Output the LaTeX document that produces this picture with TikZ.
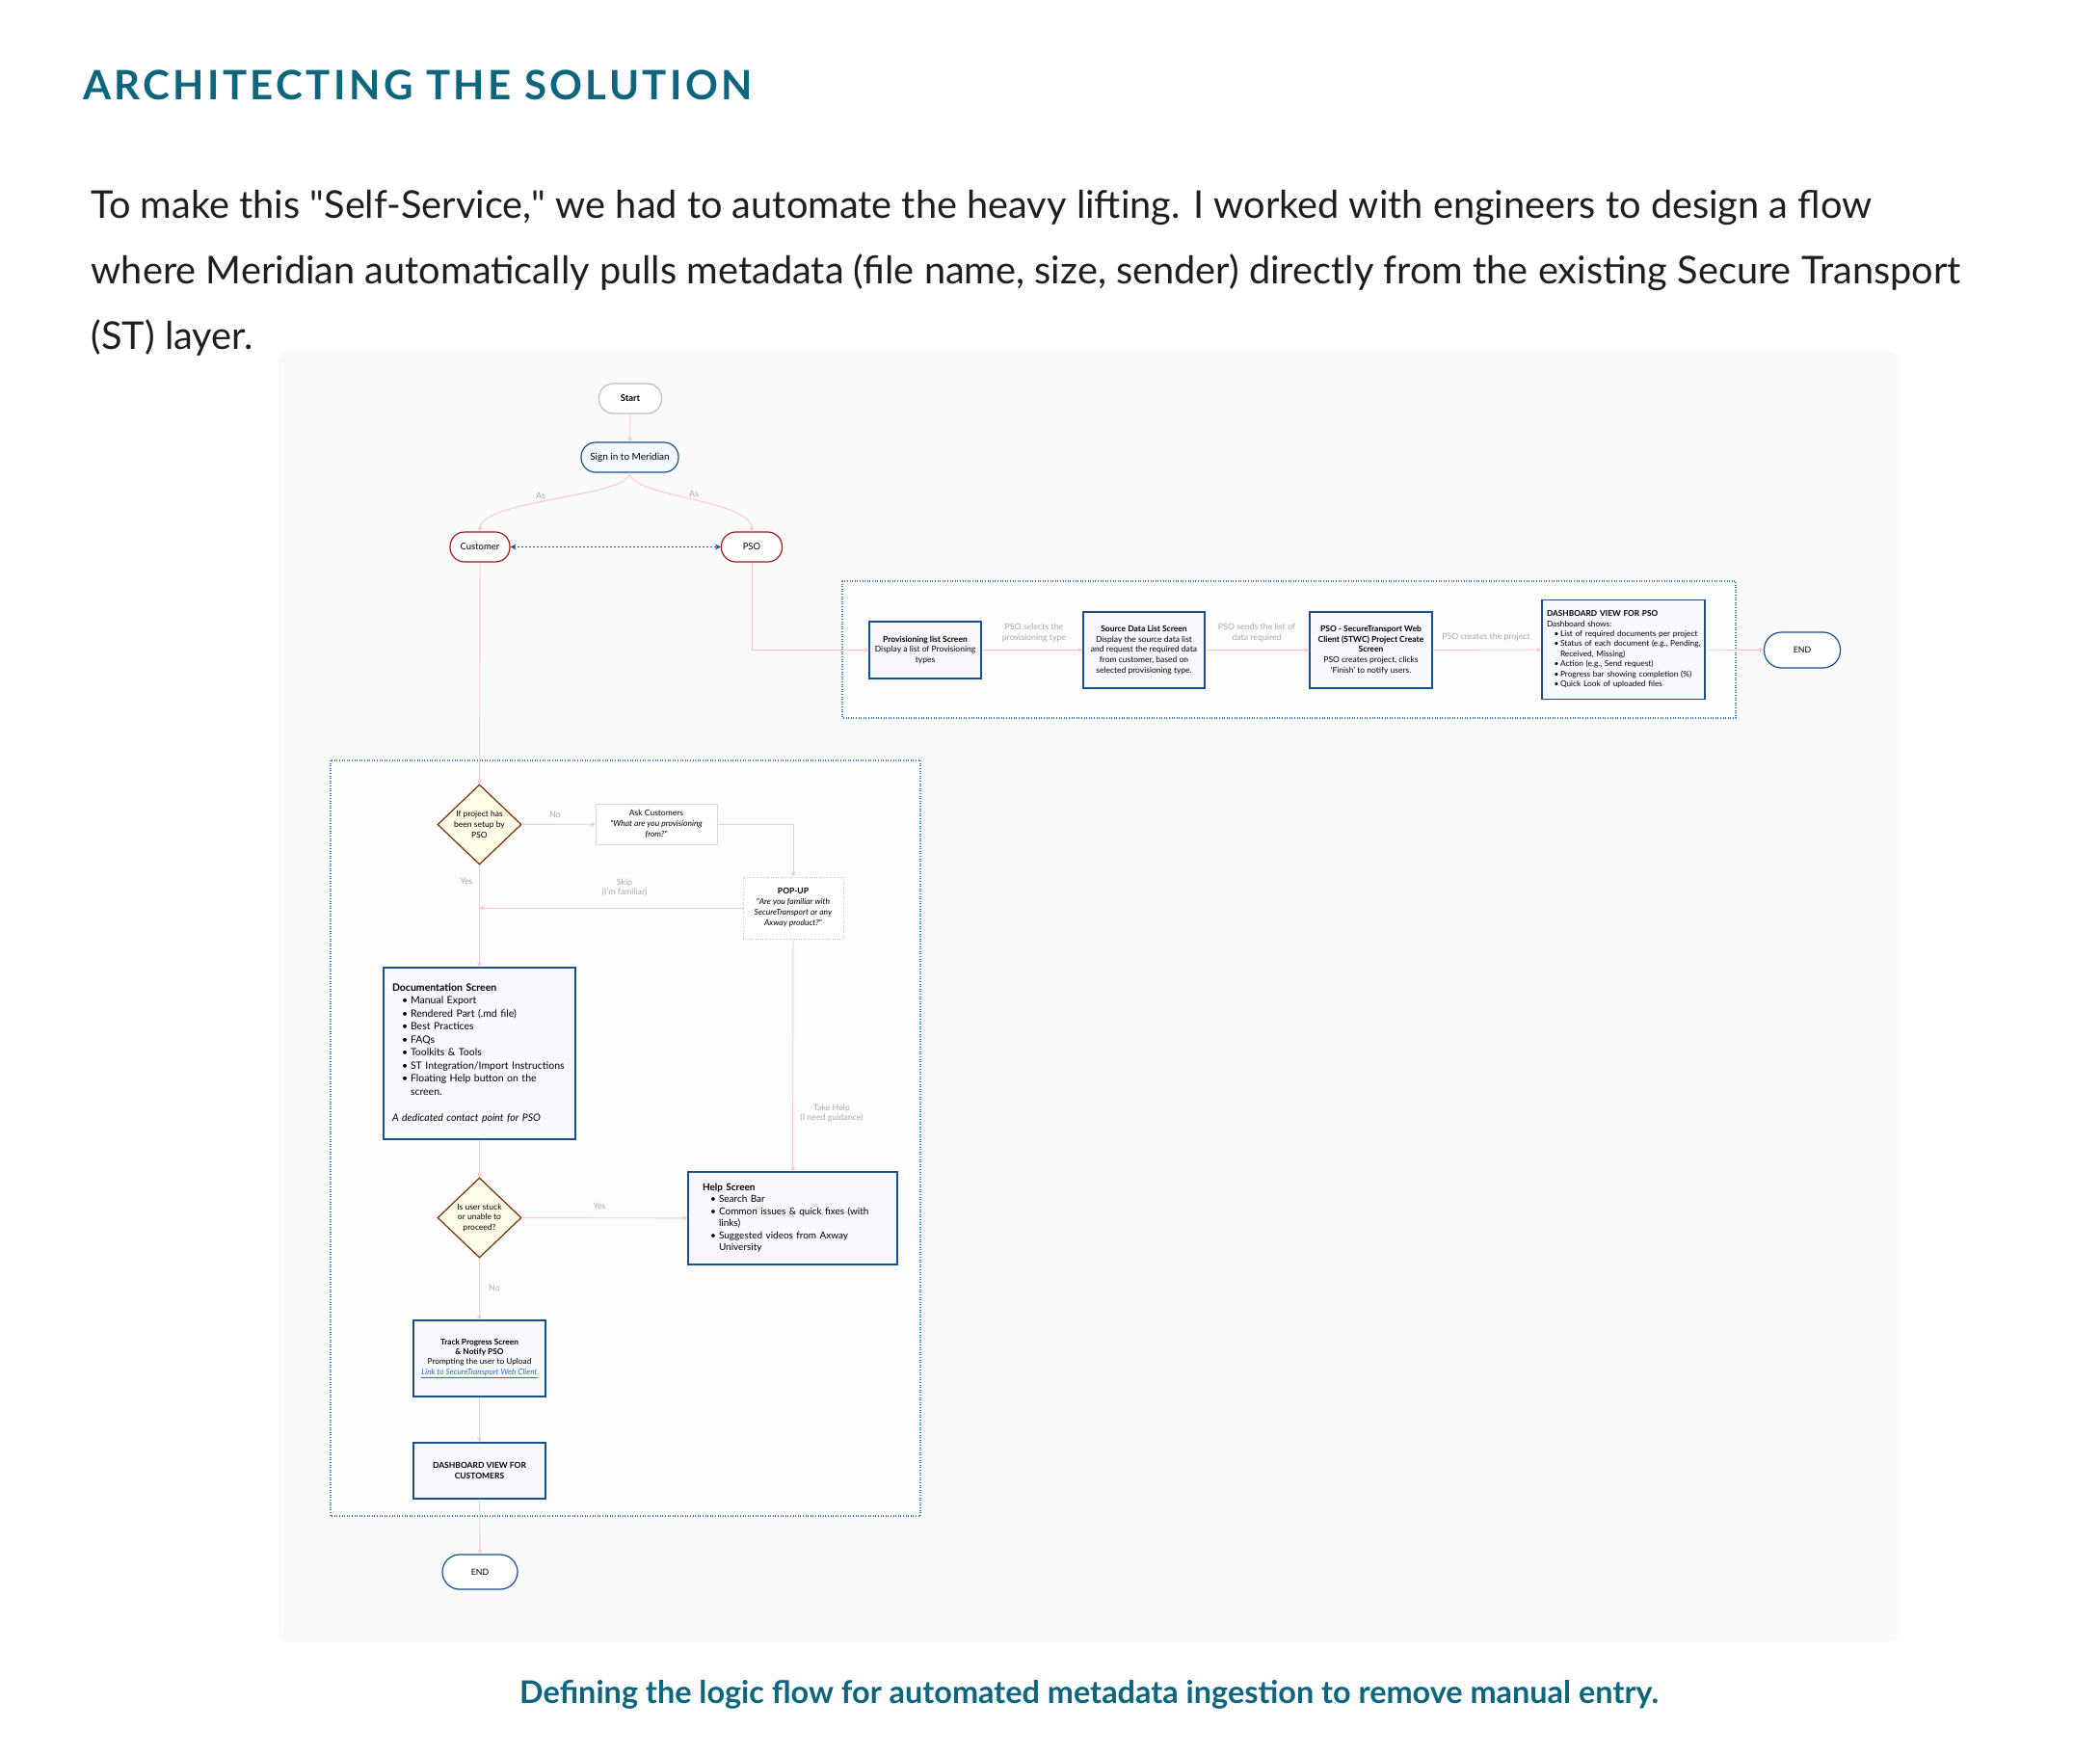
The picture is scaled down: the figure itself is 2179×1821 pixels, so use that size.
\documentclass[tikz,border=0pt]{standalone}
\usepackage{fontspec}
\usepackage{graphicx}
\setmainfont{Lato}
\newfontfamily\rawlato{Lato}
\usetikzlibrary{shapes.geometric,arrows.meta}
\definecolor{tealh}{HTML}{0D657E}
\definecolor{bodyc}{HTML}{1E1E1E}
\definecolor{navy}{HTML}{17508D}
\definecolor{boxfill}{HTML}{F8F8FF}
\definecolor{pinkc}{HTML}{FFC4C8}
\definecolor{lblgrey}{HTML}{A8A8A8}
\definecolor{redb}{HTML}{A31818}
\definecolor{diab}{HTML}{7B2D0A}
\definecolor{diaf}{HTML}{FFFCE8}
\definecolor{startg}{HTML}{BDBDBD}
\definecolor{signf}{HTML}{F3F8FF}
\definecolor{askg}{HTML}{D9D9D9}
\definecolor{popg}{HTML}{C8C8C8}
\definecolor{grpc}{HTML}{3A7BC0}
\definecolor{grpfill}{HTML}{FDFDFE}
\definecolor{panelc}{HTML}{FAFAFA}
\definecolor{linkb}{HTML}{2B6CC4}
\newcommand\BL[3]{\hspace*{#1}\makebox[#2][l]{\textbullet}#3}
\newcommand\dq{{\rawlato"}}
\begin{document}
\begin{tikzpicture}[x=1pt,y=-1pt,
  every node/.style={inner sep=0pt},
  conn/.style={draw=pinkc, line width=0.9pt, -{Stealth[length=5pt,width=5pt]}},
  lbl/.style={text=lblgrey, align=center, font=\fontsize{8.8}{10.7}\selectfont},
  pill/.style={draw, line width=1.2pt, rounded corners=15pt, minimum height=31pt, fill=white, font=\fontsize{9.5}{10}\selectfont},
  scr/.style={draw=navy, line width=1.3pt, fill=boxfill, align=center, font=\fontsize{8.5}{10.8}\selectfont},
  dia/.style={diamond, draw=diab, line width=1.2pt, fill=diaf, minimum width=87pt, minimum height=83pt, align=center, font=\fontsize{8.5}{10.8}\selectfont},
  grp/.style={draw=grpc, line width=1.2pt, dash pattern=on 1pt off 1.6pt, fill=grpfill},
]
\useasboundingbox (0,0) rectangle (2179,1821);
\fill[white] (0,0) rectangle (2179,1821);
% heading and text
\node[anchor=base west, text=tealh, font=\fontsize{42}{42}\selectfont\bfseries\addfontfeatures{LetterSpace=8}] (title) at (86,103) {ARCHITECTING THE SOLUTION};
\node[anchor=base west, text=bodyc, font=\fontsize{39.7}{40}\selectfont] (p1) at (94.5,226) {To make this \dq Self-Service,\dq\ we had to automate the heavy lifting. I worked with engineers to design a flow};
\node[anchor=base west, text=bodyc, font=\fontsize{39.7}{40}\selectfont] (p2) at (94.5,294) {where Meridian automatically pulls metadata (file name, size, sender) directly from the existing Secure Transport};
\node[anchor=base west, text=bodyc, font=\fontsize{39.7}{40}\selectfont] (p3) at (94.5,362) {(ST) layer.};
\node[anchor=base, text=tealh, font=\fontsize{32.4}{33}\selectfont\bfseries] (cap) at (1130,1767) {Defining the logic flow for automated metadata ingestion to remove manual entry.};
% panel and groups
\fill[panelc, rounded corners=12pt] (289,364) rectangle (1971,1704);
\draw[grp] (874,603) rectangle (1801,745);
\draw[grp] (343,789) rectangle (955,1573);
% top nodes
\node[pill, draw=startg, font=\fontsize{9.5}{10}\selectfont\bfseries, minimum width=65pt] (start) at (654,413.5) {Start};
\node[pill, draw=navy, fill=signf, minimum width=101pt, font=\fontsize{10}{10}\selectfont] (sign) at (653.5,474.5) {Sign in to Meridian};
\node[pill, draw=redb, minimum width=62pt] (cust) at (498,567.5) {Customer};
\node[pill, draw=redb, minimum width=63pt] (pso) at (780,567.5) {PSO};
% right flow
\node[scr, minimum width=116pt, minimum height=59pt] (prov) at (960,674.5) {\textbf{Provisioning list Screen}\\Display a list of Provisioning\\types};
\node[scr, minimum width=126pt, minimum height=79pt] (src) at (1187,674.5) {\textbf{Source Data List Screen}\\Display the source data list\\and request the required data\\from customer, based on\\selected provisioning type.};
\node[scr, minimum width=127pt, minimum height=79pt] (stwc) at (1422.5,674.5) {\textbf{PSO - SecureTransport Web}\\\textbf{Client (STWC) Project Create}\\\textbf{Screen}\\PSO creates project, clicks\\`Finish' to notify users.};
\node[scr, align=left, text width=159pt, inner xsep=5pt, minimum height=103pt, font=\fontsize{8.3}{10.4}\selectfont] (dpso) at (1684.5,674) {\begin{tabular}{@{}l@{}}\textbf{DASHBOARD VIEW FOR PSO}\\Dashboard shows:\\\BL{7.5pt}{6.5pt}{List of required documents per project}\\\BL{7.5pt}{6.5pt}{Status of each document (e.g., Pending,}\\\hspace*{14pt}Received, Missing)\\\BL{7.5pt}{6.5pt}{Action (e.g., Send request)}\\\BL{7.5pt}{6.5pt}{Progress bar showing completion (\%)}\\\BL{7.5pt}{6.5pt}{Quick Look of uploaded files}\end{tabular}};
\node[pill, draw=navy, minimum width=79pt, minimum height=37pt, rounded corners=18pt, font=\fontsize{8.8}{10}\selectfont] (endr) at (1870,674.5) {END};
% left flow
\node[dia] (d1) at (497.5,855.5) {If project has\\been setup by\\PSO};
\node[draw=askg, line width=1pt, fill=white, minimum width=126pt, minimum height=42pt, align=center, font=\fontsize{8.5}{10.7}\selectfont] (ask) at (681,855) {Ask Customers\\\textit{\dq What are you provisioning}\\\textit{from?\dq}};
\node[draw=popg, line width=1pt, dash pattern=on 1pt off 1.5pt, fill=white, minimum width=104pt, minimum height=64pt, align=center, font=\fontsize{8.5}{11}\selectfont] (pop) at (823,942) {\textbf{POP-UP}\\\textit{\dq Are you familiar with}\\\textit{SecureTransport or any}\\\textit{Axway product?\dq}};
\node[scr, align=left, text width=181pt, inner xsep=9pt, minimum height=178pt, font=\fontsize{10.5}{13.5}\selectfont] (doc) at (497.5,1093) {\begin{tabular}{@{}l@{}}\textbf{Documentation Screen}\\\BL{10pt}{9pt}{Manual Export}\\\BL{10pt}{9pt}{Rendered Part (.md file)}\\\BL{10pt}{9pt}{Best Practices}\\\BL{10pt}{9pt}{FAQs}\\\BL{10pt}{9pt}{Toolkits \& Tools}\\\BL{10pt}{9pt}{ST Integration/Import Instructions}\\\BL{10pt}{9pt}{Floating Help button on the}\\\hspace*{19pt}screen.\\[13.5pt]\textit{A dedicated contact point for PSO}\end{tabular}};
\node[dia] (d2) at (497.5,1263.5) {Is user stuck\\or unable to\\proceed?};
\node[scr, align=left, text width=187pt, inner xsep=15pt, minimum height=96pt, font=\fontsize{10}{12.5}\selectfont] (help) at (822.5,1264) {\begin{tabular}{@{}l@{}}\textbf{Help Screen}\\\BL{8pt}{9pt}{Search Bar}\\\BL{8pt}{9pt}{Common issues \& quick fixes (with}\\\hspace*{17pt}links)\\\BL{8pt}{9pt}{Suggested videos from Axway}\\\hspace*{17pt}University\end{tabular}};
\node[scr, minimum width=137pt, minimum height=79pt, font=\fontsize{8.3}{10.2}\selectfont] (track) at (497.5,1409.5) {\textbf{Track Progress Screen}\\\textbf{\& Notify PSO}\\Prompting the user to Upload\\{\color{linkb}\itshape\underline{Link to SecureTransport Web Client}}};
\node[scr, minimum width=137pt, minimum height=58pt, font=\fontsize{8.5}{10.3}\selectfont\bfseries] (dcust) at (497.5,1526) {DASHBOARD VIEW FOR\\CUSTOMERS};
\node[pill, draw=navy, minimum width=78pt, minimum height=36pt, rounded corners=18pt, font=\fontsize{8.8}{10}\selectfont] (endl) at (498,1631) {END};
% connectors
\draw[conn] (start) -- (sign);
\draw[conn] (sign.south) .. controls +(0,25) and +(0,-33) .. (cust.north);
\draw[conn] (sign.south) .. controls +(0,25) and +(0,-33) .. (pso.north);
\draw[navy, line width=1.6pt, dash pattern=on 2pt off 2pt, {Stealth[length=6pt,width=6pt]}-{Stealth[length=6pt,width=6pt]}] (cust) -- (pso);
\draw[conn] (pso.south) |- (prov.west);
\draw[conn] (prov) -- (src);
\draw[conn] (src) -- (stwc);
\draw[conn] (stwc) -- (dpso);
\draw[conn] (dpso) -- (endr);
\draw[conn] (cust) -- (d1);
\draw[conn] (d1) -- (ask);
\draw[conn] (ask.east) -| (pop.north);
\coordinate (skipend) at (d1.south |- pop.west);
\draw[conn] (pop.west) -- (skipend);
\draw[conn] (d1) -- (doc);
\draw[conn] (pop) -- (help);
\draw[conn] (doc) -- (d2);
\draw[conn] (d2) -- (help);
\draw[conn] (d2) -- (track);
\draw[conn] (track) -- (dcust);
\draw[conn] (dcust) -- (endl);
% labels
\node[lbl] (l1) at (561,514) {As};
\node[lbl] (l2) at (720,512) {As};
\node[lbl] (l3) at (1073,656.5) {PSO selects the\\provisioning type};
\node[lbl] (l4) at (1304,656.5) {PSO sends the list of\\data required};
\node[lbl] (l5) at (1542,661) {PSO creates the project};
\node[lbl] (l6) at (576,845) {No};
\node[lbl] (l7) at (484,914) {Yes};
\node[lbl] (l8) at (648,921) {Skip\\(I'm familiar)};
\node[lbl] (l9) at (863,1155) {Take Help\\(I need guidance)};
\node[lbl] (l10) at (622,1251) {Yes};
\node[lbl] (l11) at (513,1336) {No};
\end{tikzpicture}
\end{document}
